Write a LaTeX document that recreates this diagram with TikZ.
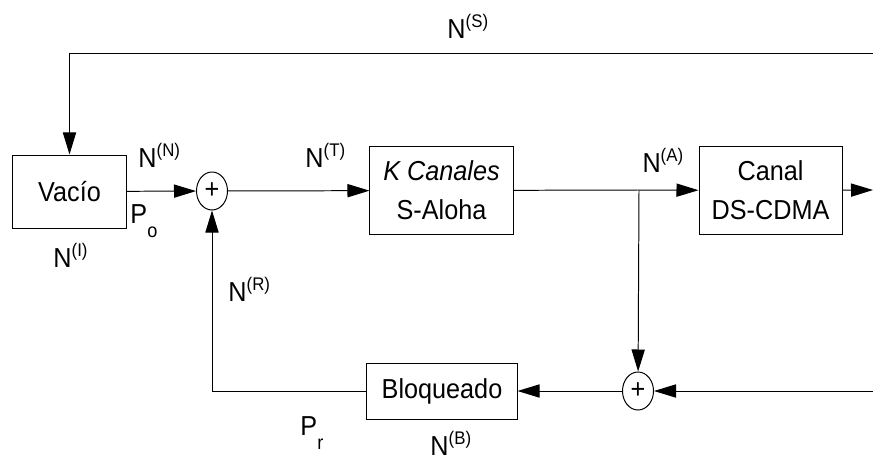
\documentclass[tikz,border=0pt]{standalone}
\usepackage{fontspec}
\setmainfont{Liberation Sans}[FakeStretch=0.92]
\usetikzlibrary{arrows.meta,shapes.geometric}

\newcommand{\upix}[1]{\raisebox{7.5pt}{\fontsize{13}{13}\selectfont(#1)}}
\newcommand{\dnix}[1]{\raisebox{-10pt}{\fontsize{14}{14}\selectfont #1}}

\begin{document}
\begin{tikzpicture}[x=0.025cm, y=-0.025cm, line width=0.7pt,
  every node/.style={font=\fontsize{19.5}{28}\selectfont},
  blk/.style={draw, align=center, inner sep=0pt},
  sum/.style={ellipse, draw, inner sep=0pt, minimum width=0.775cm, minimum height=0.95cm},
  lbl/.style={anchor=base west, inner sep=0pt},
  arr/.style={-{Triangle[length=0.55cm,width=0.33cm]}}]
\useasboundingbox (0,0) rectangle (873,460);
% --- Blocks ---
\node[blk, minimum width=2.825cm, minimum height=1.825cm] (v) at (69.5,191.5) {Vacío};
\node[blk, minimum width=3.575cm, minimum height=2.175cm] (k) at (441.5,190.5) {\textit{K Canales}\\S-Aloha};
\node[blk, minimum width=3.575cm, minimum height=2.175cm] (c) at (770.5,190.5) {Canal\\DS-CDMA};
\node[blk, minimum width=3.75cm, minimum height=1.4cm] (b) at (442,391) {Bloqueado};
% --- Summing points ---
\node[sum] (s1) at (212,191) {+};
\node[sum] (s2) at (638,391) {+};
% --- Branch and borders ---
\coordinate (br) at (639,190);
\coordinate (eS) at (873,53);
\coordinate (eC) at (873,190);
\coordinate (eB) at (873,391);
%
% --- Edges ---
\draw[arr] (eS) -| (v);
\draw[arr] (v) -- (s1);
\draw[arr] (s1) -- (k);
\draw (k) -- (br);
\draw[arr] (br) -- (c);
\draw[arr] (c) -- (eC);
\draw[arr] (br) -- (s2);
\draw[arr] (eB) -- (s2);
\draw[arr] (s2) -- (b);
\draw[arr] (b) -| (s1);
%
% --- Labels ---
\node[lbl] (nS) at (447,38) {N\upix{S}};
\node[lbl] (nN) at (138,167) {N\upix{N}};
\node[lbl] (nT) at (305,167) {N\upix{T}};
\node[lbl] (nA) at (642,172) {N\upix{A}};
\node[lbl] (nI) at (53,267) {N\upix{I}};
\node[lbl] (nR) at (228,301) {N\upix{R}};
\node[lbl] (nB) at (430,455) {N\upix{B}};
\node[lbl] (po) at (130,223) {P\dnix{o}};
\node[lbl] (pr) at (300,435) {P\dnix{r}};
%
\end{tikzpicture}
\end{document}
